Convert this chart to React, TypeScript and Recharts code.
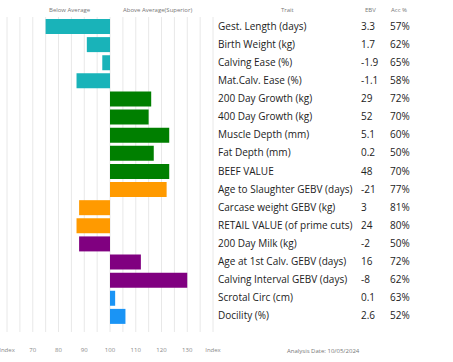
import React from 'react';
import { BarChart, Bar, XAxis, YAxis, CartesianGrid, Cell } from 'recharts';

const traits = [
  'Gest. Length (days)',
  'Birth Weight (kg)',
  'Calving Ease (%)',
  'Mat.Calv. Ease (%)',
  '200 Day Growth (kg)',
  '400 Day Growth (kg)',
  'Muscle Depth (mm)',
  'Fat Depth (mm)',
  'BEEF VALUE',
  'Age to Slaughter GEBV (days)',
  'Carcase weight GEBV (kg)',
  'RETAIL VALUE (of prime cuts)',
  '200 Day Milk (kg)',
  'Age at 1st Calv. GEBV (days)',
  'Calving Interval GEBV (days)',
  'Scrotal Circ (cm)',
  'Docility (%)',
];

// index value each bar reaches (bars start at 100)
const indexValues = [75, 91, 97, 87, 116, 115, 123, 117, 123, 122, 88, 87, 88, 112, 130, 102, 106];
const ebv = ['3.3', '1.7', '-1.9', '-1.1', '29', '52', '5.1', '0.2', '48', '-21', '3', '24', '-2', '16', '-8', '0.1', '2.6'];
const acc = ['57%', '62%', '65%', '58%', '72%', '70%', '60%', '50%', '70%', '77%', '81%', '80%', '50%', '72%', '62%', '63%', '52%'];
const groups = ['calving', 'calving', 'calving', 'calving', 'growth', 'growth', 'growth', 'growth', 'growth', 'carcase', 'carcase', 'carcase', 'maternal', 'maternal', 'maternal', 'other', 'other'];

const xTicks = [60, 65, 70, 75, 80, 85, 90, 95, 100, 105, 110, 115, 120, 125, 130, 135, 140];
const xLabels: Record<number, string> = {
  60: 'Index', 70: '70', 80: '80', 90: '90', 100: '100', 110: '110', 120: '120', 130: '130', 140: 'Index',
};

const groupColors: Record<string, string> = {
  calving: '#19b3b9',
  growth: '#007f00',
  carcase: '#ff9a00',
  maternal: '#800080',
  other: '#1a94f5',
};

const FONT = '"Open Sans", sans-serif';

const data = traits.map((t, i) => ({
  trait: t,
  range: [Math.min(100, indexValues[i]), Math.max(100, indexValues[i])],
}));

function TraitTick(props: any) {
  const { x, y, payload } = props;
  const i = payload.index;
  return (
    <g>
      <text x={x} y={y} dy="0.35em" fontSize={10} fill="#222" fontFamily={FONT}>
        {payload.value}
      </text>
      <text x={x + 143} y={y} dy="0.35em" fontSize={10} fill="#222" fontFamily={FONT}>
        {ebv[i]}
      </text>
      <text x={x + 172} y={y} dy="0.35em" fontSize={10} fill="#222" fontFamily={FONT}>
        {acc[i]}
      </text>
    </g>
  );
}

const small: React.CSSProperties = {
  position: 'absolute',
  fontSize: 6,
  color: '#777',
  fontFamily: FONT,
  whiteSpace: 'nowrap',
  lineHeight: '8px',
};

export default function App() {
  return (
    <div style={{ position: 'absolute', left: 0, top: 0, width: 453, height: 362, background: '#fff' }}>
      <BarChart
        width={453}
        height={362}
        layout="vertical"
        data={data}
        margin={{ top: 17, right: 0, left: 7, bottom: 0 }}
        barSize={15}
      >
        <CartesianGrid horizontal={false} stroke="#e8e8e8" />
        <XAxis
          type="number"
          domain={[60, 140]}
          ticks={xTicks}
          interval={0}
          tickFormatter={(v: number) => xLabels[v] ?? ''}
          axisLine={false}
          tickLine={false}
          tickSize={6}
          tickMargin={10}
          height={30}
          tick={{ fontSize: 6, fill: '#888', fontFamily: FONT }}
        />
        <YAxis
          type="category"
          dataKey="trait"
          orientation="right"
          width={240}
          axisLine={false}
          tickLine={false}
          tickSize={0}
          tickMargin={5}
          interval={0}
          padding={{ top: 0, bottom: 7 }}
          tick={<TraitTick />}
        />
        <Bar dataKey="range" isAnimationActive={false}>
          {data.map((d, i) => (
            <Cell key={i} fill={groupColors[groups[i]]} />
          ))}
        </Bar>
      </BarChart>
      <div style={{ ...small, left: 49, top: 6 }}>Below Average</div>
      <div style={{ ...small, left: 123, top: 6 }}>Above Average(Superior)</div>
      <div style={{ ...small, left: 281, top: 6 }}>Trait</div>
      <div style={{ ...small, left: 365, top: 6 }}>EBV</div>
      <div style={{ ...small, left: 391, top: 6 }}>Acc %</div>
      <div style={{ ...small, left: 287, top: 347 }}>Analysis Date: 10/05/2024</div>
    </div>
  );
}
